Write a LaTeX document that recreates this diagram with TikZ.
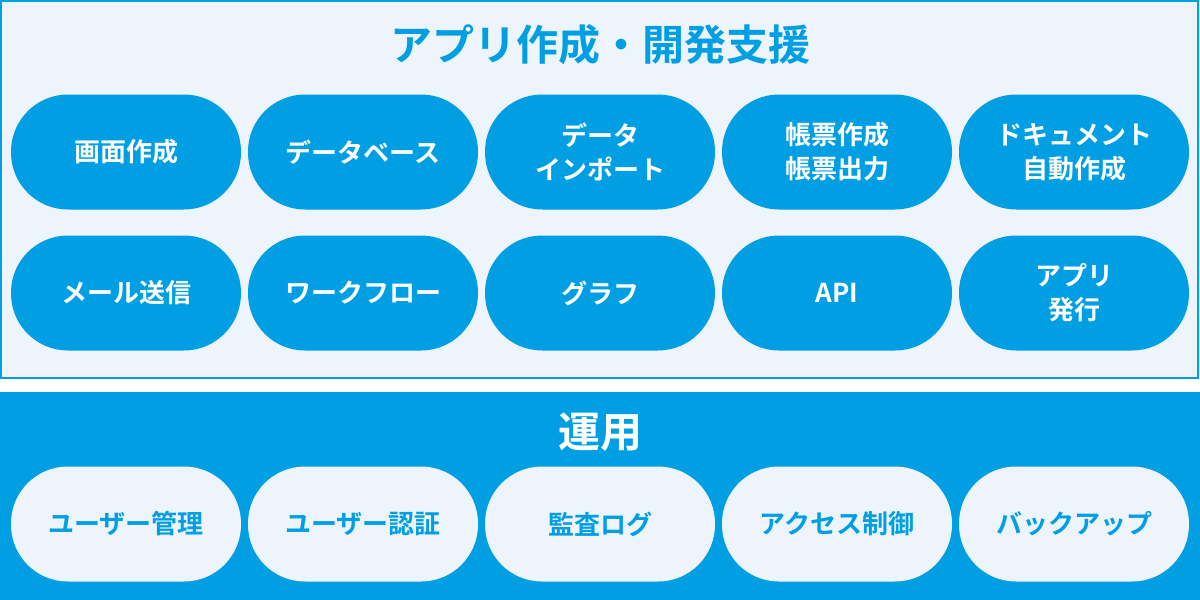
\documentclass[tikz,border=0pt]{standalone}
\usepackage{fontspec}
\setmainfont{Noto Sans CJK JP}[BoldFont={* Bold}]
\definecolor{mainblue}{HTML}{009FE3}
\definecolor{paleblue}{HTML}{EEF4FC}
\tikzset{
  pill/.style={rectangle, rounded corners=57pt, minimum width=230pt, minimum height=115pt,
    inner sep=0pt, align=center, font=\fontsize{26}{34}\selectfont\bfseries},
  devpill/.style={pill, fill=mainblue, text=white},
  oppill/.style={pill, fill=paleblue, text=mainblue},
  paneltitle/.style={font=\fontsize{42}{48}\selectfont\bfseries}
}
\begin{document}
\begin{tikzpicture}[x=1pt,y=-1pt]
  \useasboundingbox (0,0) rectangle (1200,600);
  % panels
  \draw[mainblue, fill=paleblue, line width=1.5pt] (1,1) rectangle (1198,378);
  \fill[mainblue] (0,392) rectangle (1200,600);
  \node[paneltitle, text=mainblue] (devtitle) at (600,45) {アプリ作成・開発支援};
  \node[paneltitle, text=white] (optitle) at (600,432) {運用};
  % development row 1
  \node[devpill] (screen) at (126,152) {画面作成};
  \node[devpill] (db) at (363,152) {データベース};
  \node[devpill] (import) at (600,152) {データ\\インポート};
  \node[devpill] (report) at (837,152) {帳票作成\\帳票出力};
  \node[devpill] (doc) at (1074,152) {ドキュメント\\自動作成};
  % development row 2
  \node[devpill] (mail) at (126,293) {メール送信};
  \node[devpill] (flow) at (363,293) {ワークフロー};
  \node[devpill] (graph) at (600,293) {グラフ};
  \node[devpill] (api) at (837,293) {API};
  \node[devpill] (publish) at (1074,293) {アプリ\\発行};
  % operation row
  \node[oppill] (users) at (126,524) {ユーザー管理};
  \node[oppill] (auth) at (363,524) {ユーザー認証};
  \node[oppill] (audit) at (600,524) {監査ログ};
  \node[oppill] (access) at (837,524) {アクセス制御};
  \node[oppill] (backup) at (1074,524) {バックアップ};
\end{tikzpicture}
\end{document}
